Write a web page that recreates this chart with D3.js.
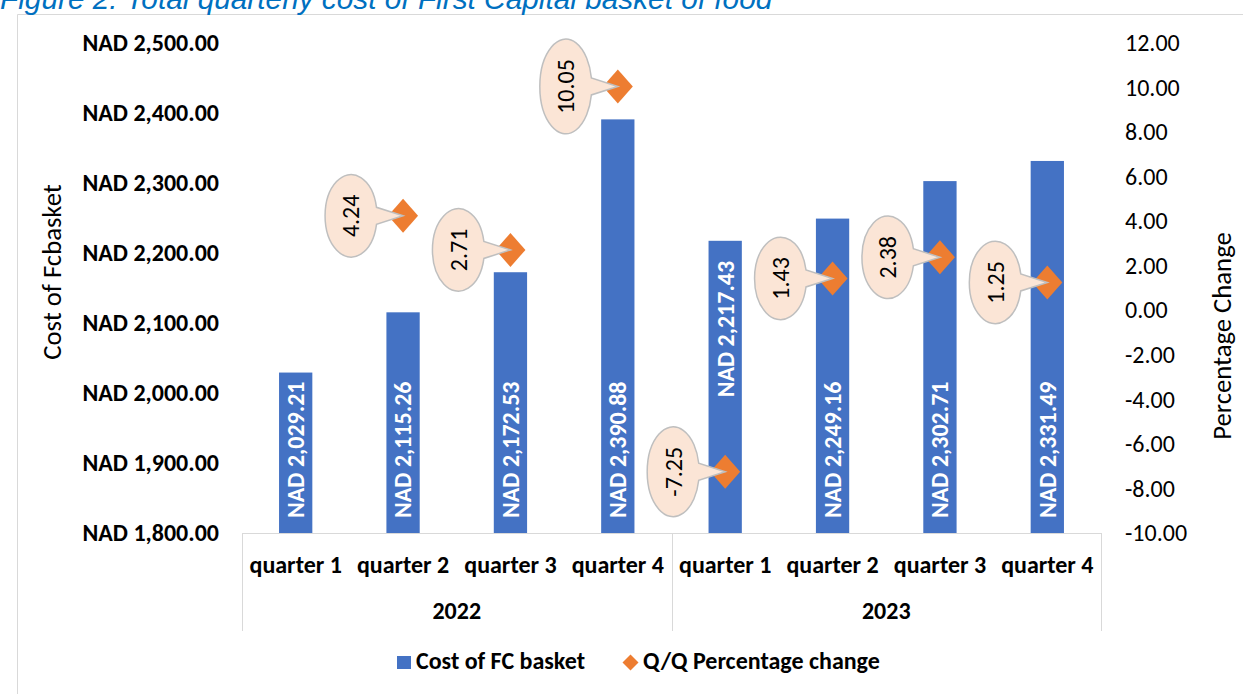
<!DOCTYPE html>
<html>
<head>
<meta charset="utf-8">
<script src="https://cdn.jsdelivr.net/npm/d3@7"></script>
<style>
body { margin: 0; background: #fff; }
svg { display: block; }
text { font-family: Carlito, Calibri, Lato, sans-serif; }
</style>
</head>
<body>
<div id="chart"></div>
<script>
// Datos

const years = ["2022", "2023"]
const quarters = ["quarter 1", "quarter 2", "quarter 3", "quarter 4"]
const cost = [2029.21, 2115.26, 2172.53, 2390.88, 2217.43, 2249.16, 2302.71, 2331.49]
const pctChange = [null, 4.24, 2.71, 10.05, -7.25, 1.43, 2.38, 1.25]
const costTicks = [1800, 1900, 2000, 2100, 2200, 2300, 2400, 2500]
const pctTicks = [-10, -8, -6, -4, -2, 0, 2, 4, 6, 8, 10, 12]

// Constantes

const width = 1243
const height = 694
const plot = { left: 242, right: 1101, top: 43, bottom: 533 }
const blue = "#4472C4"
const orange = "#ED7D31"
const grey = "#d9d9d9"
const fs = "24px"

const loc = d3.formatLocale({ decimal: ".", thousands: ",", grouping: [3], currency: ["", ""], minus: "-" })
const fmt2 = loc.format(",.2f")

const rows = years.flatMap((y, i) => quarters.map((q, j) => ({
    key: y + "|" + q,
    year: y,
    quarter: q,
    cost: cost[i * 4 + j],
    pct: pctChange[i * 4 + j]
})))

// svg

const svg = d3.select("#chart").append("svg").attr("width", width).attr("height", height)

svg.append("path")
    .attr("d", `M17.5,${height}V14.5H${width}`)
    .attr("fill", "none").attr("stroke", grey)

svg.append("text")
    .attr("x", 0).attr("y", 9)
    .style("font-family", "'Liberation Sans', Arial, sans-serif")
    .style("font-style", "italic")
    .style("font-size", "29.8px")
    .attr("fill", "#0070C0")
    .text("Figure 2: Total quarterly cost of First Capital basket of food")

// Escalas

const x = d3.scaleBand().domain(rows.map(d => d.key)).range([plot.left, plot.right])
    .paddingInner(0.69).paddingOuter(0.345)
const yCost = d3.scaleLinear().domain([1800, 2500]).range([plot.bottom, plot.top])
const yPct = d3.scaleLinear().domain([-10, 12]).range([plot.bottom, plot.top])

// Ejes

const yLeft = svg.append("g").attr("transform", "translate(219,0)")
    .call(d3.axisLeft(yCost).tickValues(costTicks).tickSize(0).tickPadding(0)
        .tickFormat(d => "NAD " + fmt2(d)))
yLeft.select(".domain").remove()
yLeft.selectAll("text").style("font-size", fs).style("font-weight", "bold").attr("fill", "#000")

const yRight = svg.append("g").attr("transform", "translate(1125,0)")
    .call(d3.axisRight(yPct).tickValues(pctTicks).tickSize(0).tickPadding(0).tickFormat(fmt2))
yRight.select(".domain").remove()
yRight.selectAll("text").style("font-size", fs).attr("fill", "#000")

const xAxis = svg.append("g").attr("transform", `translate(0,${plot.bottom})`)
    .call(d3.axisBottom(x).tickSize(0).tickPadding(23).tickFormat(d => d.split("|")[1]))
xAxis.select(".domain").remove()
xAxis.selectAll("text").style("font-size", fs).style("font-weight", "bold").attr("fill", "#000")

// caja del eje de categorías
svg.append("line")
    .attr("x1", plot.left).attr("x2", plot.right)
    .attr("y1", plot.bottom + 0.5).attr("y2", plot.bottom + 0.5)
    .attr("stroke", grey)
const bounds = [x(rows[0].key) - x.step() * x.paddingOuter(), x(rows[4].key) - x.step() * x.paddingInner() / 2, plot.right]
svg.selectAll(".sep").data(bounds).join("line").attr("class", "sep")
    .attr("x1", d => Math.round(d) + 0.5).attr("x2", d => Math.round(d) + 0.5)
    .attr("y1", plot.bottom).attr("y2", 631)
    .attr("stroke", grey)

svg.selectAll(".year").data(years).join("text").attr("class", "year")
    .attr("x", (d, i) => (bounds[i] + bounds[i + 1]) / 2)
    .attr("y", 619)
    .attr("text-anchor", "middle")
    .style("font-size", fs).style("font-weight", "bold")
    .text(d => d)

svg.append("text")
    .attr("transform", "translate(52,272) rotate(-90)")
    .attr("text-anchor", "middle").attr("dy", "0.35em")
    .style("font-size", "26.7px")
    .text("Cost of Fcbasket")

svg.append("text")
    .attr("transform", "translate(1222,336) rotate(-90)")
    .attr("text-anchor", "middle").attr("dy", "0.35em")
    .style("font-size", "26.7px")
    .text("Percentage Change")

// Barras

svg.selectAll(".bar").data(rows).join("rect").attr("class", "bar")
    .attr("x", d => x(d.key))
    .attr("y", d => yCost(d.cost))
    .attr("width", x.bandwidth())
    .attr("height", d => plot.bottom - yCost(d.cost))
    .attr("fill", blue)

// la etiqueta de 2023 T1 va arriba para no chocar con el globo
const topLabel = "2023|quarter 1"
svg.selectAll(".barLabel").data(rows).join("text").attr("class", "barLabel")
    .attr("transform", d => {
        const cx = x(d.key) + x.bandwidth() / 2
        const yy = d.key == topLabel ? yCost(d.cost) + 20 : plot.bottom - 15
        return `translate(${cx},${yy}) rotate(-90)`
    })
    .attr("text-anchor", d => d.key == topLabel ? "end" : "start")
    .attr("dy", "0.35em")
    .attr("fill", "#fff")
    .style("font-size", fs).style("font-weight", "bold")
    .text(d => "NAD " + fmt2(d.cost))

// Marcadores

const pts = rows.filter(d => d.pct != null)
const diamond = (cx, cy, w, h) => `M${cx},${cy - h / 2}L${cx + w / 2},${cy}L${cx},${cy + h / 2}L${cx - w / 2},${cy}Z`

svg.selectAll(".pt").data(pts).join("path").attr("class", "pt")
    .attr("d", d => diamond(x(d.key) + x.bandwidth() / 2, yPct(d.pct), 30, 34))
    .attr("fill", orange)

// Globos

const callouts = svg.selectAll(".callout").data(pts).join("g").attr("class", "callout")
const shapes = callouts.append("path")
    .attr("fill", "#FBE5D6").attr("stroke", "#BFBFBF").attr("stroke-width", 1.5)
const labels = callouts.append("text")
    .attr("text-anchor", "middle").attr("dy", "0.35em")
    .style("font-size", fs).attr("fill", "#000")
    .text(d => fmt2(d.pct))

labels.each(function (d) {
    const px = x(d.key) + x.bandwidth() / 2
    const py = yPct(d.pct)
    const cx = px - 52, cy = py
    const rx = 26
    const ry = this.getComputedTextLength() / 2 + 20
    const h = 8.5
    const bx = cx + rx * Math.sqrt(1 - (h / ry) ** 2)
    d3.select(this).attr("transform", `translate(${cx},${cy}) rotate(-90)`)
    d3.select(this.parentNode).select("path")
        .attr("d", `M${bx},${cy - h}A${rx},${ry} 0 1 0 ${bx},${cy + h}L${px},${py}Z`)
})

// Leyenda

const legend = svg.append("g")
legend.append("rect").attr("x", 397).attr("y", 656).attr("width", 14).attr("height", 13).attr("fill", blue)
legend.append("text").attr("x", 416).attr("y", 669)
    .style("font-size", fs).style("font-weight", "bold").text("Cost of FC basket")
legend.append("path").attr("d", diamond(630.5, 662.5, 16, 16)).attr("fill", orange)
legend.append("text").attr("x", 643).attr("y", 669)
    .style("font-size", fs).style("font-weight", "bold").text("Q/Q Percentage change")
</script>
</body>
</html>
